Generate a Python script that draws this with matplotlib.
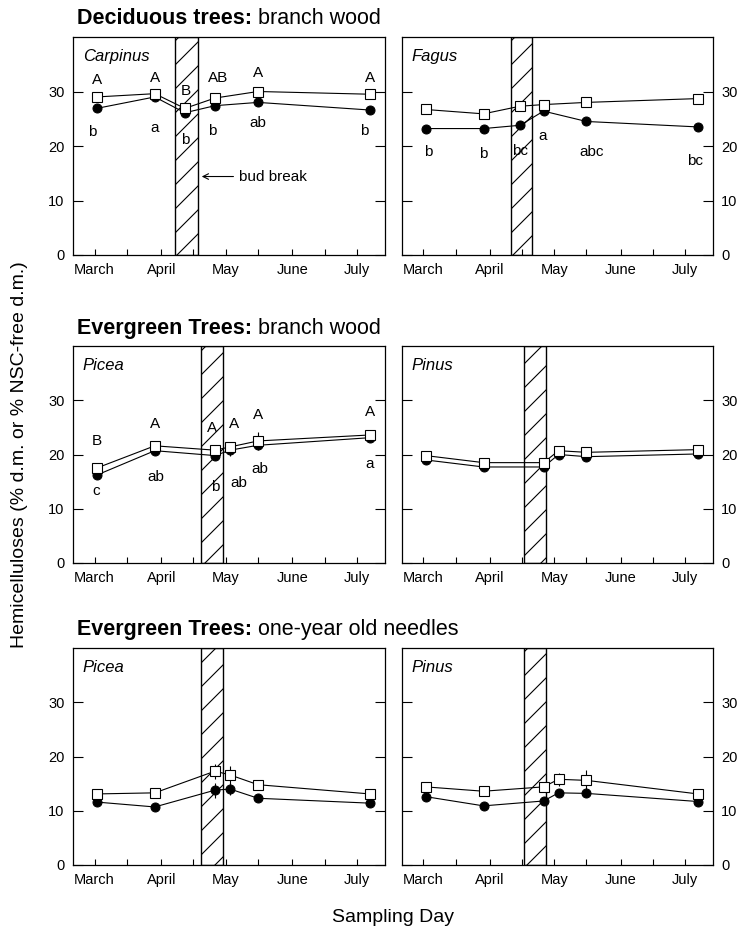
import matplotlib
matplotlib.use('Agg')
import matplotlib.pyplot as plt
from matplotlib.ticker import FixedLocator

# rendering resolution (hatch spacing depends on dpi); all point sizes scaled by S
DPI = 72
S = 100.0 / DPI

plt.rcParams['font.family'] = ['Liberation Sans', 'DejaVu Sans']
plt.rcParams['hatch.linewidth'] = 0.8 * S

# ---------------- data ----------------
months = ['March', 'April', 'May', 'June', 'July']
month_days = [60, 91, 121, 152, 182]
mid_days = [75, 106, 136, 167]

# Carpinus branch wood
carp_days = [61, 88, 102, 116, 136, 188]
carp_open = [29.0, 29.6, 26.9, 28.8, 30.0, 29.5]
carp_fill = [26.9, 29.0, 26.1, 27.4, 28.0, 26.6]
carp_bud = (97.6, 107.9)
carp_upper = ['A', 'A', 'B', 'AB', 'A', 'A']
carp_upper_y = [32.1, 32.5, 30.1, 32.5, 33.4, 32.5]
carp_lower = ['b', 'a', 'b', 'b', 'ab', 'b']
carp_lower_y = [22.5, 23.3, 21.1, 22.7, 24.2, 22.7]

# Fagus branch wood
fagus_days = [61, 88, 105, 116, 136, 188]
fagus_open = [26.7, 25.9, 27.3, 27.6, 28.0, 28.7]
fagus_fill = [23.2, 23.2, 23.8, 26.4, 24.5, 23.5]
fagus_bud = (100.6, 110.7)
fagus_lower = ['b', 'b', 'bc', 'a', 'abc', 'bc']
fagus_lower_y = [18.9, 18.5, 19.0, 21.8, 18.9, 17.3]

# Picea branch wood
piceab_days = [61, 88, 116, 123, 136, 188]
piceab_open = [17.5, 21.6, 20.8, 21.4, 22.5, 23.6]
piceab_open_err = [0, 0, 0, 0.6, 1.7, 0]
piceab_fill = [16.2, 20.7, 19.8, 20.8, 21.7, 23.1]
piceab_fill_err = [0, 0, 0.8, 1.0, 0.6, 0]
picea_bud = (109.7, 119.8)
piceab_upper = ['B', 'A', 'A', 'A', 'A', 'A']
piceab_upper_y = [22.4, 25.7, 24.8, 25.7, 27.2, 27.9]
piceab_lower = ['c', 'ab', 'b', 'ab', 'ab', 'a']
piceab_lower_y = [13.2, 15.9, 14.1, 14.8, 17.3, 18.3]

# Pinus branch wood
pinusb_days = [61, 88, 116, 123, 136, 188]
pinusb_open = [19.8, 18.5, 18.5, 20.7, 20.4, 20.9]
pinusb_fill = [19.0, 17.7, 17.7, 20.0, 19.6, 20.1]
pinus_bud = (106.9, 117.1)

# Picea one-year old needles
picean_days = [61, 88, 116, 123, 136, 188]
picean_open = [13.1, 13.3, 17.3, 16.6, 14.8, 13.1]
picean_open_err = [0, 0, 1.4, 1.6, 0, 0]
picean_fill = [11.6, 10.7, 13.8, 14.0, 12.3, 11.4]
picean_fill_err = [0, 0, 1.4, 1.1, 0, 0]

# Pinus one-year old needles
pinusn_days = [61, 88, 116, 123, 136, 188]
pinusn_open = [14.4, 13.6, 14.4, 15.8, 15.6, 13.1]
pinusn_open_err = [0, 0, 0, 1.2, 1.9, 0]
pinusn_fill = [12.6, 10.9, 11.8, 13.3, 13.2, 11.7]
pinusn_fill_err = [0, 0, 0, 0.5, 0.7, 0]

# ---------------- figure ----------------
W, H = 741.0, 929.0
fig = plt.figure(figsize=(W / DPI, H / DPI), dpi=DPI)


def axes_px(x0, x1, top, bottom):
    return fig.add_axes([x0 / W, 1 - bottom / H, (x1 - x0) / W, (bottom - top) / H])


cols = [(73, 385), (402, 713)]
rows = [(37, 255), (346, 563), (648, 865)]


def setup(ax, right):
    ax.set_xlim(50, 195)
    ax.set_ylim(0, 40)
    ax.xaxis.set_major_locator(FixedLocator(month_days))
    ax.xaxis.set_minor_locator(FixedLocator(mid_days))
    ax.set_xticklabels(months)
    ax.set_yticks([0, 10, 20, 30])
    ax.tick_params(axis='x', which='both', direction='in', length=4.5 * S,
                   width=0.8 * S, labelsize=10.5 * S, pad=6 * S, top=False)
    ax.tick_params(axis='y', direction='in', length=7 * S, width=0.8 * S,
                   labelsize=10.5 * S, pad=6 * S, left=True, right=True,
                   labelleft=not right, labelright=right)
    for s in ax.spines.values():
        s.set_linewidth(0.9 * S)


def draw(ax, days, opn, fil, bud, name, opn_err=None, fil_err=None):
    ax.axvspan(bud[0], bud[1], facecolor='white', edgecolor='black', hatch='/',
               lw=1.0 * S, zorder=1)
    ax.errorbar(days, fil, yerr=fil_err, color='black', lw=0.8 * S,
                elinewidth=0.8 * S, capsize=0, marker='o', ms=6.5 * S,
                mfc='black', mec='black', zorder=3)
    ax.errorbar(days, opn, yerr=opn_err, color='black', lw=0.8 * S,
                elinewidth=0.8 * S, capsize=0, marker='s', ms=7.5 * S,
                mfc='white', mec='black', mew=0.8 * S, zorder=4)
    ax.text(0.032, 0.91, name, transform=ax.transAxes, style='italic',
            fontsize=12 * S, ha='left', va='center')


def letters(ax, days, labs, ys, dx=None):
    for i, (d, l, y) in enumerate(zip(days, labs, ys)):
        off = (dx[i] if dx else 0) * S
        ax.annotate(l, (d, y), xytext=(off, 0), textcoords='offset points',
                    ha='center', va='center', fontsize=11 * S, zorder=5)


ax1 = axes_px(*cols[0], *rows[0]); setup(ax1, False)
draw(ax1, carp_days, carp_open, carp_fill, carp_bud, 'Carpinus')
letters(ax1, carp_days, carp_upper, carp_upper_y, [0, 0, 1, 2, 0, 0])
letters(ax1, carp_days, carp_lower, carp_lower_y, [-3, 0, 0, -2, 0, -4])
ax1.annotate('', xy=(108.9, 14.4), xytext=(125.5, 14.4),
             arrowprops=dict(arrowstyle='->', lw=0.8 * S, color='black',
                             mutation_scale=10 * S))
ax1.text(127.3, 14.4, 'bud break', fontsize=11 * S, ha='left', va='center')

ax2 = axes_px(*cols[1], *rows[0]); setup(ax2, True)
draw(ax2, fagus_days, fagus_open, fagus_fill, fagus_bud, 'Fagus')
letters(ax2, fagus_days, fagus_lower, fagus_lower_y, [2, 0, 0, -1, 4, -2])

ax3 = axes_px(*cols[0], *rows[1]); setup(ax3, False)
draw(ax3, piceab_days, piceab_open, piceab_fill, picea_bud, 'Picea',
     piceab_open_err, piceab_fill_err)
letters(ax3, piceab_days, piceab_upper, piceab_upper_y, [0, 0, -2, 3, 0, 0])
letters(ax3, piceab_days, piceab_lower, piceab_lower_y, [0, 1, 0, 6, 1, 0])

ax4 = axes_px(*cols[1], *rows[1]); setup(ax4, True)
draw(ax4, pinusb_days, pinusb_open, pinusb_fill, pinus_bud, 'Pinus')

ax5 = axes_px(*cols[0], *rows[2]); setup(ax5, False)
draw(ax5, picean_days, picean_open, picean_fill, picea_bud, 'Picea',
     picean_open_err, picean_fill_err)

ax6 = axes_px(*cols[1], *rows[2]); setup(ax6, True)
draw(ax6, pinusn_days, pinusn_open, pinusn_fill, pinus_bud, 'Pinus',
     pinusn_open_err, pinusn_fill_err)


# section titles: bold part followed by regular part
def section(x_px, bottom_px, bold, rest):
    t = fig.text(x_px / W, 1 - bottom_px / H, bold, fontsize=15.5 * S,
                 weight='bold', ha='left', va='bottom')
    fig.text(0, 0, '')
    ann = plt.annotate(rest, xy=(1, 0), xycoords=t, ha='left', va='bottom',
                       fontsize=15.5 * S, annotation_clip=False)
    return t, ann


section(77, 29, 'Deciduous trees:', ' branch wood')
section(77, 339, 'Evergreen Trees:', ' branch wood')
section(77, 640, 'Evergreen Trees:', ' one-year old needles')

fig.text(20 / W, 1 - 455 / H, 'Hemicelluloses (% d.m. or % NSC-free d.m.)',
         rotation=90, ha='center', va='center', fontsize=14 * S)
fig.text(393 / W, 1 - 918 / H, 'Sampling Day', ha='center', va='center',
         fontsize=14 * S)

fig.savefig('out.png', dpi=DPI)
